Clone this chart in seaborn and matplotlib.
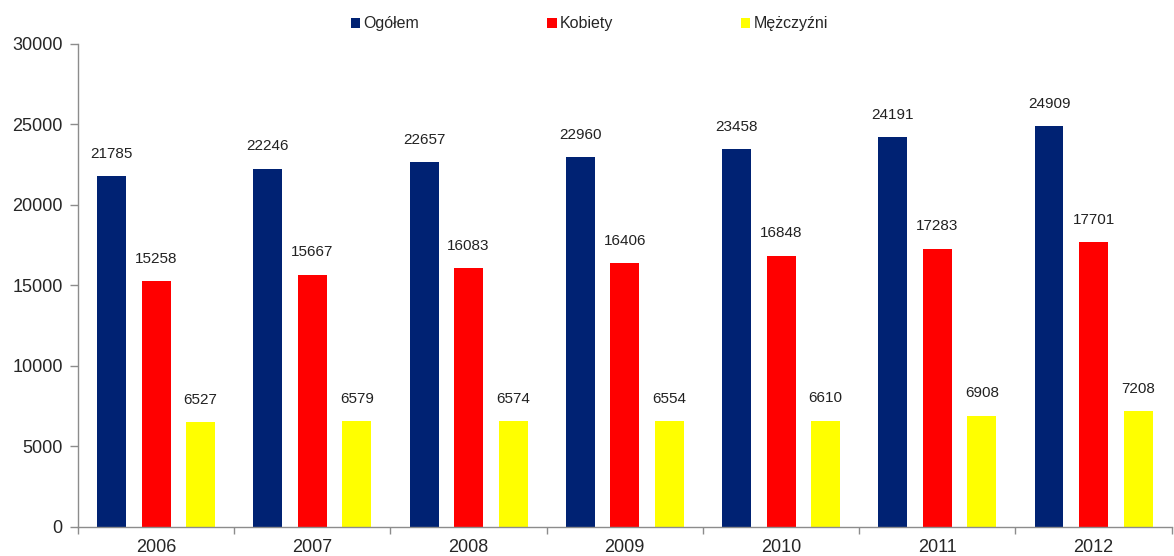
import matplotlib
matplotlib.use("Agg")
import matplotlib.pyplot as plt
import seaborn as sns
import pandas as pd
import numpy as np

years = ["2006", "2007", "2008", "2009", "2010", "2011", "2012"]
series_names = ["Ogółem", "Kobiety", "Mężczyźni"]
ogolem = [21785, 22246, 22657, 22960, 23458, 24191, 24909]
kobiety = [15258, 15667, 16083, 16406, 16848, 17283, 17701]
mezczyzni = [6527, 6579, 6574, 6554, 6610, 6908, 7208]
colors = ["#002273", "#FF0000", "#FFFF00"]

df = pd.DataFrame({
    "year": years * 3,
    "value": ogolem + kobiety + mezczyzni,
    "series": [series_names[0]] * 7 + [series_names[1]] * 7 + [series_names[2]] * 7,
})

sns.set_style("white")
plt.rcParams["font.family"] = ["Liberation Sans", "DejaVu Sans"]

fig = plt.figure(figsize=(11.74, 5.56), dpi=100)
ax = fig.add_axes([0.0664, 0.0522, 0.9316, 0.8689])

sns.barplot(data=df, x="year", y="value", hue="series", hue_order=series_names,
            palette=colors, width=0.855, gap=0.35, ax=ax, saturation=1,
            edgecolor="none", linewidth=0)

for cont in ax.containers:
    ax.bar_label(cont, padding=11, fontsize=11, color="#222222")

ax.set_ylim(0, 30000)
ax.set_xlim(-0.5, 6.5)
ax.set_yticks(np.arange(0, 30001, 5000))
ax.set_xlabel("")
ax.set_ylabel("")

for s in ["top", "right"]:
    ax.spines[s].set_visible(False)
for s in ["left", "bottom"]:
    ax.spines[s].set_color("#8c8c8c")
    ax.spines[s].set_linewidth(1.0)

ax.tick_params(axis="y", which="major", length=6, width=1, color="#8c8c8c",
               labelsize=13, pad=5, direction="out", left=True)
ax.tick_params(axis="x", which="major", length=0, labelsize=13, pad=9)
ax.set_xticks(np.arange(-0.5, 7.0, 1.0), minor=True)
ax.tick_params(axis="x", which="minor", length=5, width=1, color="#8c8c8c",
               direction="out", bottom=True)

handles, labels = ax.get_legend_handles_labels()
ax.legend(handles, labels, loc="center", bbox_to_anchor=(0.502, 0.957),
          bbox_transform=fig.transFigure, ncol=3, frameon=False, fontsize=11.5,
          handlelength=0.6, handleheight=0.6, handletextpad=0.2,
          columnspacing=8.0)

fig.savefig("out.png", dpi=100)
